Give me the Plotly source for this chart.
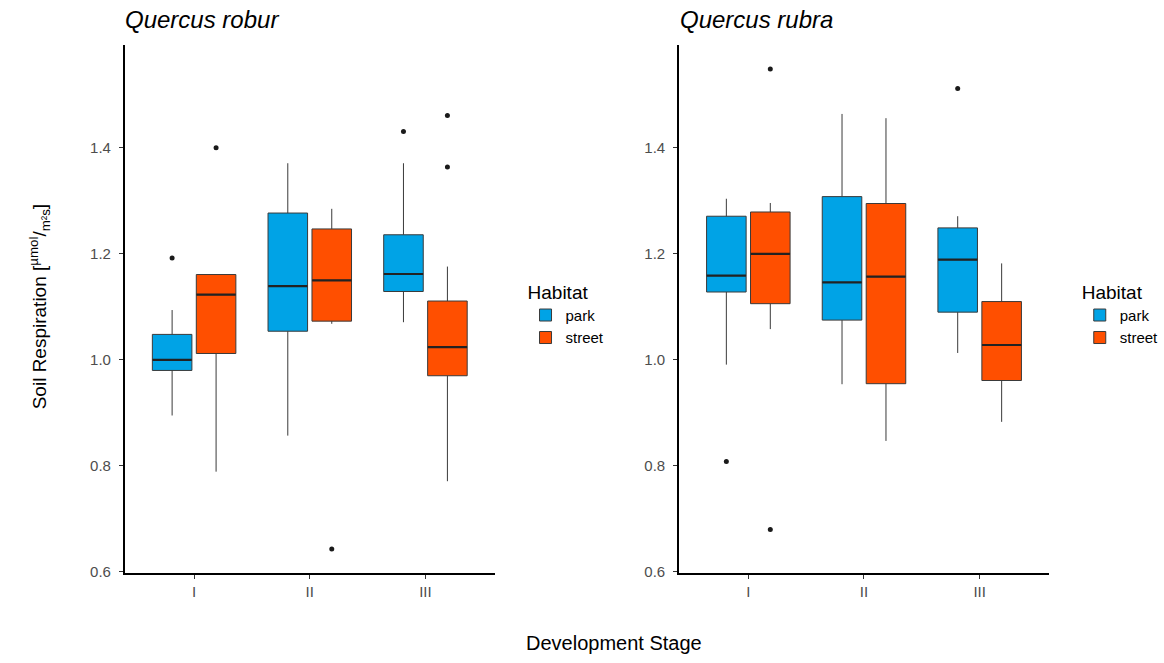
import plotly.graph_objects as go

stages = ["I", "II", "III"]
habitats = ["park", "street"]
colors = {"park": "#00A3E6", "street": "#FF4F00"}

# Quercus robur (left panel)
robur_park_q1 = [0.980, 1.054, 1.129]
robur_park_med = [1.000, 1.139, 1.162]
robur_park_q3 = [1.048, 1.277, 1.236]
robur_park_lo = [0.895, 0.857, 1.071]
robur_park_hi = [1.094, 1.371, 1.371]
robur_park_out = [[1.192], [], [1.431]]

robur_street_q1 = [1.012, 1.073, 0.970]
robur_street_med = [1.123, 1.150, 1.024]
robur_street_q3 = [1.161, 1.247, 1.111]
robur_street_lo = [0.789, 1.068, 0.771]
robur_street_hi = [1.161, 1.285, 1.176]
robur_street_out = [[1.400], [0.643], [1.461, 1.364]]

# Quercus rubra (right panel)
rubra_park_q1 = [1.128, 1.075, 1.090]
rubra_park_med = [1.159, 1.146, 1.189]
rubra_park_q3 = [1.271, 1.308, 1.249]
rubra_park_lo = [0.991, 0.954, 1.013]
rubra_park_hi = [1.304, 1.464, 1.271]
rubra_park_out = [[0.808], [], [1.512]]

rubra_street_q1 = [1.106, 0.955, 0.961]
rubra_street_med = [1.200, 1.157, 1.028]
rubra_street_q3 = [1.279, 1.295, 1.110]
rubra_street_lo = [1.058, 0.847, 0.883]
rubra_street_hi = [1.296, 1.456, 1.182]
rubra_street_out = [[1.549, 0.680], [], []]

y_ticks = [0.6, 0.8, 1.0, 1.2, 1.4]
y_tick_text = ["0.6", "0.8", "1.0", "1.2", "1.4"]

panels = [
    ("x", "y", "legend", {
        "park": (robur_park_q1, robur_park_med, robur_park_q3, robur_park_lo, robur_park_hi, robur_park_out),
        "street": (robur_street_q1, robur_street_med, robur_street_q3, robur_street_lo, robur_street_hi, robur_street_out),
    }),
    ("x2", "y2", "legend2", {
        "park": (rubra_park_q1, rubra_park_med, rubra_park_q3, rubra_park_lo, rubra_park_hi, rubra_park_out),
        "street": (rubra_street_q1, rubra_street_med, rubra_street_q3, rubra_street_lo, rubra_street_hi, rubra_street_out),
    }),
]

GAP = 0.24

fig = go.Figure()
for xa, ya, leg, data in panels:
    for h in habitats:
        q1, med, q3, lo, hi, out = data[h]
        fig.add_trace(go.Box(
            x=stages, q1=q1, median=med, q3=q3, lowerfence=lo, upperfence=hi,
            y=out, boxpoints="all", jitter=0, pointpos=0,
            name=h, legend=leg, xaxis=xa, yaxis=ya,
            offsetgroup=h, alignmentgroup=xa,
            fillcolor=colors[h],
            line=dict(color="#3a3a3a", width=1.0),
            marker=dict(color="#1a1a1a", size=5, line=dict(width=0)),
            whiskerwidth=0,
            hoverinfo="skip",
        ))
    # thicker median bars, dodged like the boxes
    for h in habitats:
        q1, med, q3, lo, hi, out = data[h]
        fig.add_trace(go.Scatter(
            x=stages, y=med, mode="markers", xaxis=xa, yaxis=ya,
            offsetgroup=h, showlegend=False, hoverinfo="skip",
            marker=dict(symbol="line-ew", size=28, color="#222222",
                        line=dict(color="#222222", width=2.2)),
        ))

FONT = "Liberation Sans, Arial, sans-serif"
W, H = 1164, 663

axis_common = dict(
    showline=True, linecolor="black", linewidth=1.5,
    ticks="outside", ticklen=4, tickcolor="#333333", tickwidth=1,
    tickfont=dict(family=FONT, size=15, color="#4d4d4d"),
    showgrid=False, zeroline=False,
)

fig.update_layout(
    width=W, height=H,
    margin=dict(l=0, r=0, t=0, b=0),
    paper_bgcolor="white", plot_bgcolor="white",
    boxmode="group", boxgap=GAP, boxgroupgap=0.1,
    scattermode="group", scattergap=GAP,
    font=dict(family=FONT, color="black"),
    xaxis=dict(domain=[126 / W, 500 / W], anchor="y", type="category", range=[-0.6, 2.6],
               categoryorder="array", categoryarray=stages, **axis_common),
    yaxis=dict(domain=[(H - 579) / H, (H - 45) / H], anchor="x", range=[0.598, 1.595],
               tickvals=y_ticks, ticktext=y_tick_text, ticklabelstandoff=5, **axis_common),
    xaxis2=dict(domain=[686 / W, 1060 / W], anchor="y2", type="category", range=[-0.6, 2.6],
                categoryorder="array", categoryarray=stages, **axis_common),
    yaxis2=dict(domain=[(H - 579) / H, (H - 45) / H], anchor="x2", range=[0.598, 1.595],
                tickvals=y_ticks, ticktext=y_tick_text, ticklabelstandoff=5, **axis_common),
    legend=dict(x=531 / W, xanchor="left", y=(H - 277) / H, yanchor="top",
                title=dict(text="Habitat", font=dict(family=FONT, size=19, color="black")),
                font=dict(family=FONT, size=15, color="black"),
                bgcolor="rgba(0,0,0,0)", tracegroupgap=0, itemwidth=30),
    legend2=dict(x=1091 / W, xanchor="left", y=(H - 277) / H, yanchor="top",
                 title=dict(text="Habitat", font=dict(family=FONT, size=19, color="black")),
                 font=dict(family=FONT, size=15, color="black"),
                 bgcolor="rgba(0,0,0,0)", tracegroupgap=0, itemwidth=30),
    annotations=[
        dict(text="<i>Quercus robur</i>", x=124 / W, y=1 - 20 / H, xref="paper", yref="paper",
             xanchor="left", yanchor="middle", showarrow=False,
             font=dict(family=FONT, size=24, color="black")),
        dict(text="<i>Quercus rubra</i>", x=685 / W, y=1 - 20 / H, xref="paper", yref="paper",
             xanchor="left", yanchor="middle", showarrow=False,
             font=dict(family=FONT, size=24, color="black")),
        dict(text="Development Stage", x=620 / W, y=1 - 650 / H, xref="paper", yref="paper",
             xanchor="center", yanchor="middle", showarrow=False,
             font=dict(family=FONT, size=20, color="black")),
        dict(text="Soil Respiration [<sup>µmol</sup>/<sub>m²s</sub>]", x=40 / W, y=1 - 310 / H,
             xref="paper", yref="paper", xanchor="center", yanchor="middle",
             textangle=-90, showarrow=False,
             font=dict(family=FONT, size=19, color="black")),
    ],
)

fig.write_html(
    "out.html",
    config={"displayModeBar": False},
    post_script=(
        "document.documentElement.style.margin='0px';"
        "document.documentElement.style.overflow='hidden';"
        "document.body.style.margin='0px';"
        "document.body.style.overflow='hidden';"
    ),
)
